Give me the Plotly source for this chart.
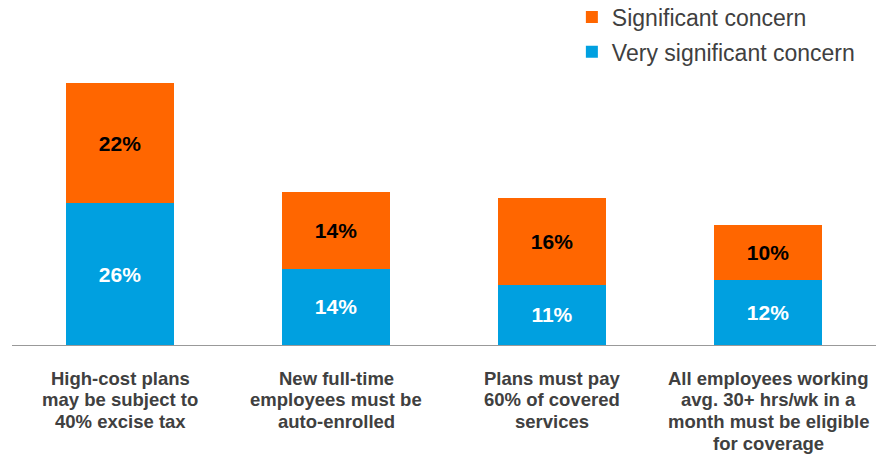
import plotly.graph_objects as go

categories = [
    "High-cost plans<br>may be subject to<br>40% excise tax",
    "New full-time<br>employees must be<br>auto-enrolled",
    "Plans must pay<br>60% of covered<br>services",
    "All employees working<br>avg. 30+ hrs/wk in a<br>month must be eligible<br>for coverage",
]
very_significant = [26, 14, 11, 12]
significant = [22, 14, 16, 10]

FONT = "Arial, Liberation Sans, sans-serif"
ORANGE = "#FF6600"
BLUE = "#00A0E0"
LABEL_GREY = "#404040"

fig = go.Figure()
fig.add_trace(go.Bar(
    x=categories, y=very_significant, name="Very significant concern",
    marker=dict(color=BLUE, line=dict(width=0)),
    text=[f"<b>{v}%</b>" for v in very_significant],
    textposition="inside", insidetextanchor="middle", textangle=0,
    textfont=dict(family=FONT, size=21, color="white"),
    legendgroup="a", legendrank=2, hoverinfo="skip",
))
fig.add_trace(go.Bar(
    x=categories, y=significant, name="Significant concern",
    marker=dict(color=ORANGE, line=dict(width=0)),
    text=[f"<b>{v}%</b>" for v in significant],
    textposition="inside", insidetextanchor="middle", textangle=0,
    textfont=dict(family=FONT, size=21, color="black"),
    legendgroup="b", legendrank=1, hoverinfo="skip",
))

# Category labels: one annotation per line so the line spacing stays tight
LINE_STEP = 21.7
FIRST_LINE = 33
for cat in categories:
    for i, line in enumerate(cat.split("<br>")):
        fig.add_annotation(
            x=cat, y=0, xref="x", yref="y",
            text=f"<b>{line}</b>", showarrow=False,
            xanchor="center", yanchor="middle",
            yshift=-(FIRST_LINE + LINE_STEP * i),
            font=dict(family=FONT, size=18.5, color=LABEL_GREY),
        )

fig.update_layout(
    barmode="stack",
    bargap=0.5,
    width=876, height=455,
    margin=dict(l=12, r=0, t=83, b=110, autoexpand=False),
    plot_bgcolor="white", paper_bgcolor="white",
    font=dict(family=FONT, color=LABEL_GREY),
    xaxis=dict(
        showline=True, linecolor="#999999", linewidth=1,
        showticklabels=False, automargin=False,
        showgrid=False, zeroline=False,
    ),
    yaxis=dict(range=[0, 48], visible=False, showgrid=False, zeroline=False),
    legend=dict(
        x=0.648, xanchor="left", y=1.334, yanchor="top",
        traceorder="grouped", tracegroupgap=2,
        font=dict(family=FONT, size=23, color=LABEL_GREY),
        bgcolor="rgba(0,0,0,0)",
    ),
    showlegend=True,
)

fig.write_html("out.html")
